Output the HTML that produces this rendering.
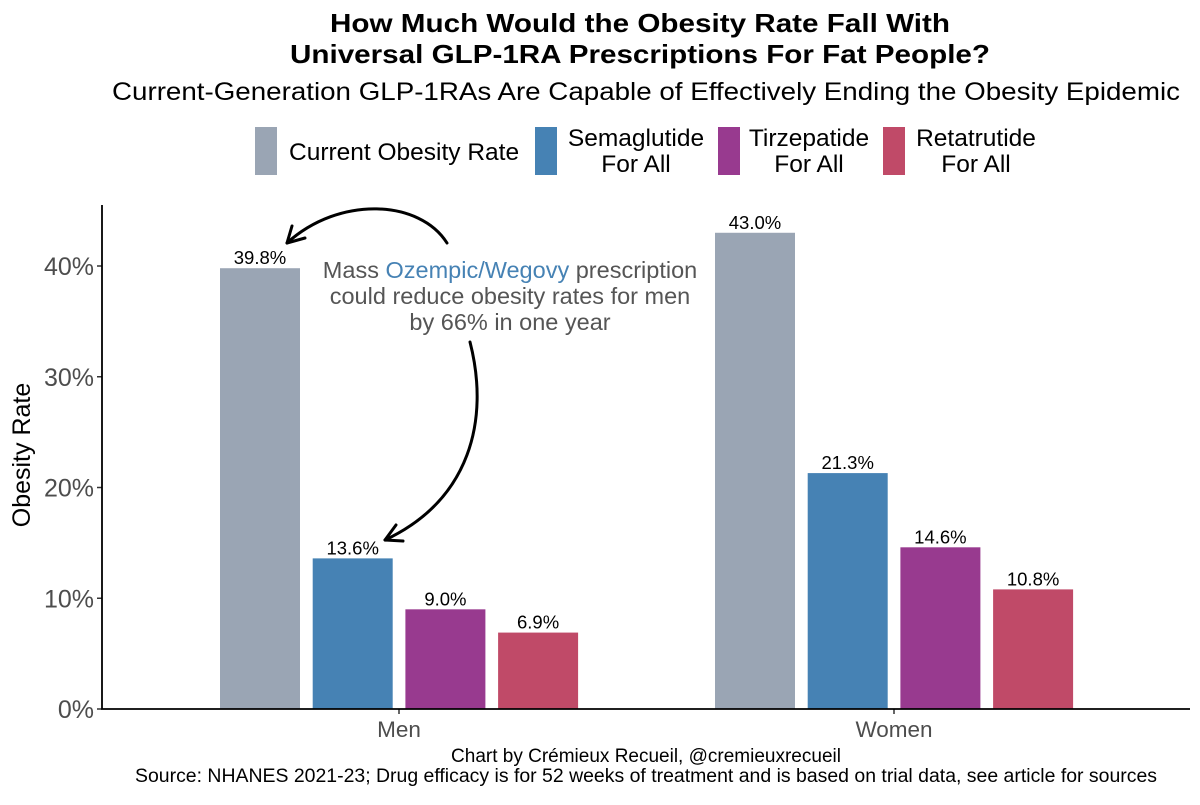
<!DOCTYPE html>
<html><head><meta charset="utf-8"><style>
body{margin:0;background:#fff;width:1200px;height:800px;overflow:hidden;font-family:"Liberation Sans",sans-serif}
</style></head><body>
<svg id="c" width="1200" height="800" xmlns="http://www.w3.org/2000/svg" font-family="Liberation Sans, sans-serif">
<text x="640" y="32" text-anchor="middle" font-size="26" font-weight="bold" textLength="620" lengthAdjust="spacingAndGlyphs">How Much Would the Obesity Rate Fall With</text>
<text x="640" y="63" text-anchor="middle" font-size="26" font-weight="bold" textLength="700" lengthAdjust="spacingAndGlyphs">Universal GLP-1RA Prescriptions For Fat People?</text>
<text x="646" y="100" text-anchor="middle" font-size="25" textLength="1068" lengthAdjust="spacingAndGlyphs">Current-Generation GLP-1RAs Are Capable of Effectively Ending the Obesity Epidemic</text>
<g font-size="24.5">
<rect x="255" y="127" width="22" height="48" fill="#9aa5b4"/>
<text x="289" y="160">Current Obesity Rate</text>
<rect x="535" y="127" width="22" height="48" fill="#4682b4"/>
<text x="636" y="146" text-anchor="middle"><tspan x="636">Semaglutide</tspan><tspan x="636" dy="26">For All</tspan></text>
<rect x="718" y="127" width="22" height="48" fill="#983a8f"/>
<text x="809" y="146" text-anchor="middle"><tspan x="809">Tirzepatide</tspan><tspan x="809" dy="26">For All</tspan></text>
<rect x="883" y="127" width="22" height="48" fill="#c04a68"/>
<text x="976" y="146" text-anchor="middle"><tspan x="976">Retatrutide</tspan><tspan x="976" dy="26">For All</tspan></text>
</g>
<g id="plot"></g>
<text transform="translate(30,455) rotate(-90)" text-anchor="middle" font-size="25">Obesity Rate</text>
<g font-size="23.5" fill="#555" text-anchor="middle">
<text x="510" y="278"><tspan>Mass </tspan><tspan fill="#4682b4">Ozempic/Wegovy</tspan><tspan> prescription</tspan></text>
<text x="510" y="304">could reduce obesity rates for men</text>
<text x="510" y="330">by 66% in one year</text>
</g>
<g fill="none" stroke="#000" stroke-width="3" stroke-linecap="round">
<path d="M447,243 C420,200 340,195 287,243"/>
<path d="M287,243 L305,238 M287,243 L292,226"/>
<path d="M470,342 C490,420 470,500 385,540"/>
<path d="M385,540 L396,525 M385,540 L403,541"/>
</g>
<text x="646" y="762" text-anchor="middle" font-size="19">Chart by Crémieux Recueil, @cremieuxrecueil</text>
<text x="646" y="782" text-anchor="middle" font-size="19" textLength="1022" lengthAdjust="spacingAndGlyphs">Source: NHANES 2021-23; Drug efficacy is for 52 weeks of treatment and is based on trial data, see article for sources</text>
</svg>
<script>
const groups=["Men","Women"];
const current=[39.8,43.0];
const semaglutide=[13.6,21.3];
const tirzepatide=[9.0,14.6];
const retatrutide=[6.9,10.8];
const yTicks=[0,10,20,30,40];
const ns="http://www.w3.org/2000/svg";
const g=document.getElementById('plot');
const y=v=>709-v*11.075;
const gx=i=>399+i*495;
function mk(t,a){const e=document.createElementNS(ns,t);for(const k in a)e.setAttribute(k,a[k]);g.appendChild(e);return e;}
yTicks.forEach(t=>{
 const tx=mk('text',{x:94,y:y(t)+9,'text-anchor':'end','font-size':25,fill:'#4d4d4d'});tx.textContent=t+'%';
 
 
 const l=mk('line',{x1:97,x2:102,y1:y(t),y2:y(t),stroke:'#333','stroke-width':1.5});
 
 
});
const series=[[current,'#9aa5b4','current'],[semaglutide,'#4682b4','semaglutide'],[tirzepatide,'#983a8f','tirzepatide'],[retatrutide,'#c04a68','retatrutide']];
groups.forEach((name,i)=>{
 series.forEach(([arr,col,sn],j)=>{
  const x=gx(i)-179+j*92.7, v=arr[i];
  const r=mk('rect',{x:x,y:y(v),width:80,height:709-y(v),fill:col});
  
  
  const t=mk('text',{x:x+40,y:y(v)-4,'text-anchor':'middle','font-size':18.5});
  t.textContent=v.toFixed(1)+'%';
  
  
 });
 const lt=mk('text',{x:gx(i),y:737,'text-anchor':'middle','font-size':22.5,fill:'#4d4d4d'});lt.textContent=name;
 
 
 const tk=mk('line',{x1:gx(i),x2:gx(i),y1:709,y2:714,stroke:'#333','stroke-width':1.5});
 
 
});
const ax=mk('path',{d:'M102,205 L102,709 L1190,709',fill:'none',stroke:'#000','stroke-width':1.8});


</script>
</body></html>
